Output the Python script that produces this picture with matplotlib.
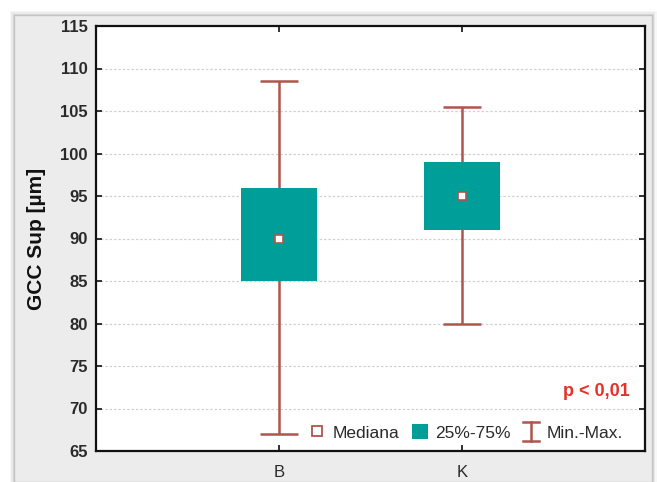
import matplotlib
matplotlib.use("Agg")
import matplotlib.pyplot as plt
from matplotlib.patches import Rectangle, Patch
from matplotlib.lines import Line2D
from matplotlib.legend_handler import HandlerBase

categories = ["B", "K"]
medians = [90, 95]
q1 = [85, 91]
q3 = [96, 99]
mins = [67, 80]
maxs = [108.5, 105.5]
yticks = [65, 70, 75, 80, 85, 90, 95, 100, 105, 110, 115]
p_text = "p < 0,01"

box_color = "#009e98"
whisk_color = "#b0554b"
txt_color = "#2a2a2a"

plt.rcParams['font.family'] = ['Liberation Sans', 'DejaVu Sans']

W, H = 657, 482
fig = plt.figure(figsize=(W / 100, H / 100), dpi=100, facecolor="white")

# outer panel with soft shadow
for i, a in enumerate([0.03, 0.05, 0.08]):
    off = (3 - i) * 1.5
    fig.patches.append(Rectangle(((14 - off) / W, 0), (638 + 2 * off) / W, (467 + off) / H,
                                 transform=fig.transFigure, facecolor="#000000", alpha=a,
                                 edgecolor="none", zorder=0))
fig.patches.append(Rectangle((14 / W, 0), 638 / W, 467 / H, transform=fig.transFigure,
                             facecolor="#ececec", edgecolor="#c4c4c4", linewidth=1, zorder=1))

ax = fig.add_axes([96 / W, (H - 451) / H, 549 / W, 425 / H])
ax.set_zorder(2)
ax.set_facecolor("white")

x = [1, 2]
ax.set_xlim(0, 3)
ax.set_ylim(65, 115)

# grid
for yv in yticks[1:-1]:
    ax.axhline(yv, color="#d2d2d2", linestyle=(0, (2, 1.5)), linewidth=0.9, zorder=0)

# whiskers
yerr = [[m - lo for m, lo in zip(medians, mins)], [hi - m for m, hi in zip(medians, maxs)]]
ax.errorbar(x, medians, yerr=yerr, fmt="none", ecolor=whisk_color, elinewidth=1.8,
            capsize=13.5, capthick=1.8, zorder=2)
# boxes
ax.bar(x, [b - a for a, b in zip(q1, q3)], bottom=q1, width=0.41, color=box_color,
       edgecolor="none", zorder=3)
# medians
ax.plot(x, medians, linestyle="none", marker="s", markersize=6, markerfacecolor="white",
        markeredgecolor=whisk_color, markeredgewidth=1.2, zorder=4)

ax.set_xticks(x)
ax.set_xticklabels(categories)
ax.set_yticks(yticks)
ax.tick_params(axis="both", direction="in", length=4, width=1.3, color="#222222",
               labelsize=12, labelcolor=txt_color)
ax.tick_params(axis="y", right=True, pad=6)
ax.tick_params(axis="x", top=True, pad=10)
for lab in ax.get_yticklabels():
    lab.set_fontweight("bold")
for s in ax.spines.values():
    s.set_linewidth(1.6)
    s.set_color("#111111")

ax.set_ylabel("GCC Sup [µm]", fontsize=15, fontweight="bold", color="#111111", labelpad=10)

ax.text(0.972, 0.14, p_text, transform=ax.transAxes, ha="right", va="center",
        color="#e8302a", fontsize=13, fontweight="bold")


class IBarHandler(HandlerBase):
    def create_artists(self, legend, orig_handle, xdescent, ydescent, width, height, fontsize, trans):
        cx = width / 2 - xdescent
        y0 = -ydescent - 1
        y1 = height - ydescent + 1
        c = whisk_color
        arts = [
            Line2D([cx, cx], [y0, y1], color=c, lw=1.8),
            Line2D([cx - 6, cx + 6], [y0, y0], color=c, lw=1.8),
            Line2D([cx - 6, cx + 6], [y1, y1], color=c, lw=1.8),
        ]
        for a in arts:
            a.set_transform(trans)
        return arts


h_med = Line2D([], [], linestyle="none", marker="s", markersize=6.5, markerfacecolor="white",
               markeredgecolor=whisk_color, markeredgewidth=1.3)
h_box = Patch(facecolor=box_color, edgecolor="none")
h_ibar = object()
leg = ax.legend([h_med, h_box, h_ibar], ["Mediana", "25%-75%", "Min.-Max."],
                handler_map={object: IBarHandler()}, ncol=3, frameon=False,
                loc="lower right", bbox_to_anchor=(0.985, -0.008), fontsize=12.5,
                handlelength=0.9, handleheight=1.0, handletextpad=0.45, columnspacing=0.7,
                borderpad=0.3)
for t in leg.get_texts():
    t.set_color(txt_color)

fig.savefig("out.png", dpi=100, facecolor=fig.get_facecolor())
